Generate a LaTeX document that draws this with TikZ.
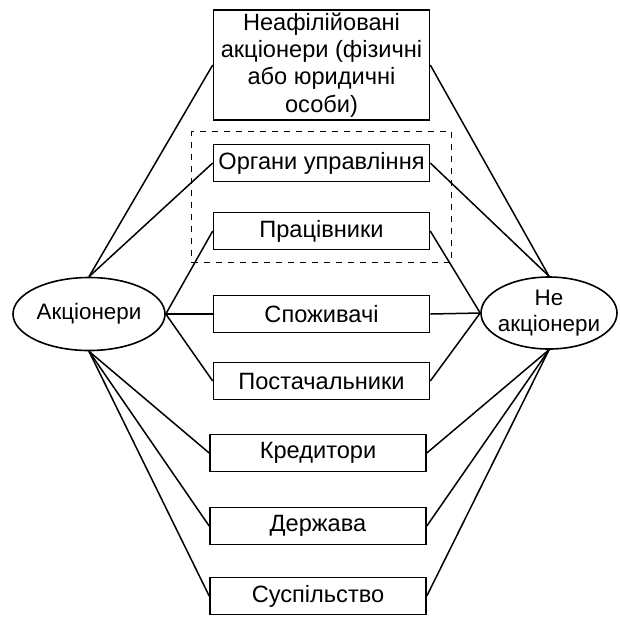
\documentclass[tikz,border=0pt]{standalone}
\usepackage{fontspec}
\setmainfont{Liberation Sans}
\usetikzlibrary{fit,shapes.geometric}

\tikzstyle{block} = [draw, fill=white, rectangle, line width=0.8pt,
    minimum height=18.5pt, minimum width=108pt, inner xsep=0pt, inner ysep=1pt,
    font=\fontsize{11.8}{13.6}\selectfont]
\tikzstyle{party} = [draw, ellipse, line width=0.8pt, inner sep=0pt,
    font=\fontsize{11.2}{13}\selectfont, align=center]
\tikzstyle{link} = [line width=0.75pt]

\begin{document}
\begin{tikzpicture}[x=0.5pt, y=-0.5pt]
          \useasboundingbox[fill=white] (0,0) rectangle (620,617);

          \node (neafil) [block, minimum height=55pt, align=center] at (321.5,65) {Неафілійовані\\акціонери (фізичні\\або юридичні\\особи)};
          \node (orhany) [block] at (321.5,163) {Органи управління};
          \node (pratsivnyky) [block] at (321.5,231) {Працівники};
          \node (spozhyvachi) [block] at (321.5,314) {Споживачі};
          \node (postachalnyky) [block] at (321.5,381) {Постачальники};
          \node (kredytory) [block] at (318,453) {Кредитори};
          \node (derzhava) [block] at (318,526) {Держава};
          \node (suspilstvo) [block] at (318,596) {Суспільство};

          \node (vnutr) [draw, dashed, line width=0.6pt, inner xsep=10.5pt, inner ysep=6pt, fit=(orhany) (pratsivnyky)] {};

          \node (aktsionery) [party, minimum width=76pt, minimum height=36.5pt] at (89,314) {Акціонери};
          \node (neaktsionery) [party, inner xsep=-2pt, minimum width=68pt, minimum height=36pt] at (549,313) {Не\\акціонери};

          \draw [link] (aktsionery.north) -- (neafil.west);
          \draw [link] (aktsionery.north) -- (orhany.west);
          \draw [link] (aktsionery.east) -- (pratsivnyky.west);
          \draw [link] (aktsionery.east) -- (spozhyvachi.west);
          \draw [link] (aktsionery.east) -- (postachalnyky.west);
          \draw [link] (aktsionery.south) -- (kredytory.west);
          \draw [link] (aktsionery.south) -- (derzhava.west);
          \draw [link] (aktsionery.south) -- (suspilstvo.west);

          \draw [link] (neaktsionery.north) -- (neafil.east);
          \draw [link] (neaktsionery.north) -- (orhany.east);
          \draw [link] (neaktsionery.west) -- (pratsivnyky.east);
          \draw [link] (neaktsionery.west) -- (spozhyvachi.east);
          \draw [link] (neaktsionery.west) -- (postachalnyky.east);
          \draw [link] (neaktsionery.south) -- (kredytory.east);
          \draw [link] (neaktsionery.south) -- (derzhava.east);
          \draw [link] (neaktsionery.south) -- (suspilstvo.east);
        \end{tikzpicture}
\end{document}
